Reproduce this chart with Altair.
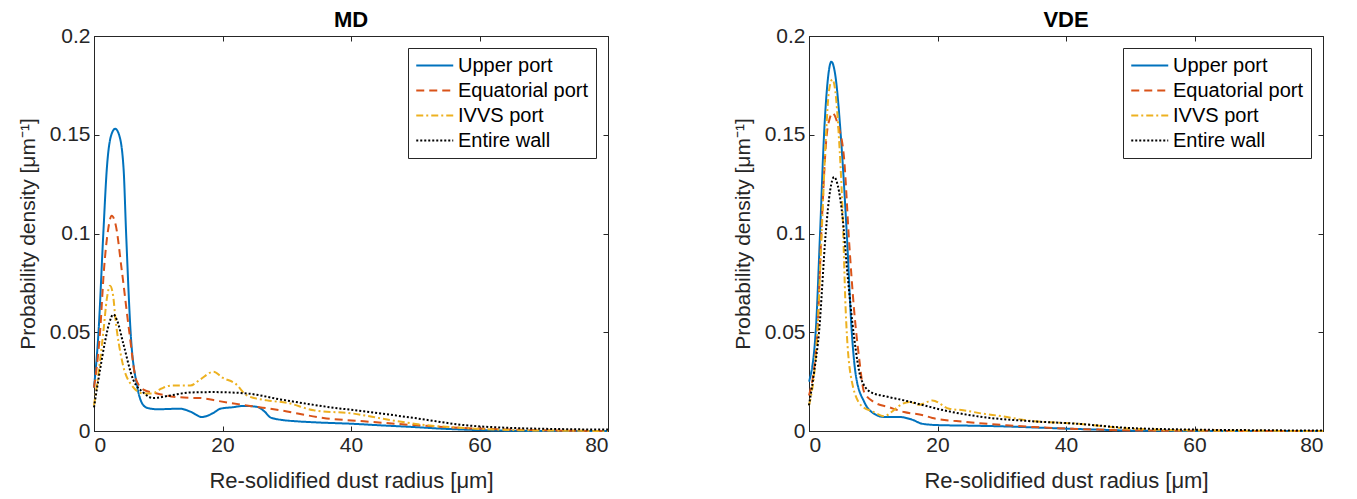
import altair as alt
import pandas as pd

SERIES = ["Upper port", "Equatorial port", "IVVS port", "Entire wall"]
COLORS = ["#0072BD", "#D95319", "#EDB120", "#000000"]
DASHES = [[1, 0], [8, 5], [7, 3, 2, 3], [2, 2]]
X_TICKS = [0, 20, 40, 60, 80]
Y_TICKS = [0, 0.05, 0.1, 0.15, 0.2]

# ---- MD panel ----
md_upper_x = [0, 0.7, 1.45, 2.0, 2.7, 3.3, 3.9, 4.6, 5.0, 5.7, 6.7, 7.7, 8.5, 10, 12, 13.4, 15, 16.8, 18.5, 19.7, 21.5, 23.3, 25.4, 26.5, 27.5, 29.5, 31.6, 35, 39.9, 45, 49.8, 54, 57.6, 62, 66, 72, 80]
md_upper_y = [0.022, 0.05, 0.1, 0.133, 0.150, 0.153, 0.150, 0.133, 0.1, 0.05, 0.023, 0.013, 0.0115, 0.011, 0.0112, 0.0113, 0.0098, 0.0071, 0.009, 0.0113, 0.012, 0.0127, 0.0122, 0.010, 0.0068, 0.0055, 0.0049, 0.0043, 0.0037, 0.0028, 0.002, 0.0012, 0.0007, 0.0003, 0.0001, 0, 0]

md_equ_x = [0, 0.94, 1.56, 2.2, 2.76, 3.4, 4.3, 5.5, 6.55, 7.7, 9.8, 12, 15, 16.5, 19.7, 24.3, 29, 35.7, 42, 49.8, 57.6, 65.4, 72, 80]
md_equ_y = [0.022, 0.05, 0.082, 0.102, 0.109, 0.104, 0.082, 0.05, 0.026, 0.021, 0.019, 0.0175, 0.0168, 0.0167, 0.015, 0.0127, 0.0105, 0.0066, 0.0049, 0.003, 0.0015, 0.0007, 0.0002, 0]

md_ivvs_x = [0, 0.8, 1.45, 2.0, 2.5, 3.0, 3.3, 4.4, 5.9, 7.7, 9.0, 10.5, 12, 13.4, 15, 16.5, 18.6, 20, 22, 23.8, 26.9, 30, 34.2, 40.4, 45, 49.8, 57.6, 65, 72, 80]
md_ivvs_y = [0.013, 0.032, 0.05, 0.067, 0.0736, 0.068, 0.058, 0.035, 0.023, 0.019, 0.019, 0.0215, 0.023, 0.023, 0.023, 0.026, 0.030, 0.027, 0.024, 0.018, 0.0155, 0.0143, 0.0105, 0.0088, 0.0062, 0.0037, 0.0015, 0.0005, 0.0002, 0]

md_wall_x = [0, 0.94, 1.7, 2.4, 3.0, 3.6, 4.5, 6.1, 7.6, 9.2, 11.9, 15, 18.6, 23.8, 29, 36.8, 42, 49.8, 57.6, 65.4, 72, 80]
md_wall_y = [0.012, 0.031, 0.045, 0.055, 0.059, 0.056, 0.045, 0.026, 0.0197, 0.0167, 0.018, 0.0195, 0.0197, 0.019, 0.016, 0.012, 0.010, 0.0066, 0.003, 0.0015, 0.001, 0.0007]

# ---- VDE panel ----
vde_upper_x = [0, 1.04, 1.72, 2.34, 2.9, 3.48, 4.1, 4.94, 5.88, 6.66, 7.3, 8.6, 10, 11.7, 14, 16, 17.6, 20, 25, 29.6, 35, 40, 45, 50, 55, 60, 80]
vde_upper_y = [0.025, 0.05, 0.1, 0.15, 0.177, 0.187, 0.18, 0.15, 0.1, 0.05, 0.028, 0.0147, 0.009, 0.0071, 0.0071, 0.0058, 0.0037, 0.003, 0.0027, 0.0024, 0.0018, 0.0012, 0.0007, 0.0002, 0.0001, 0, 0]

vde_equ_x = [0, 1.3, 1.92, 2.76, 3.2, 3.64, 4.5, 5.46, 6.24, 7.0, 7.8, 8.58, 10.1, 12.5, 14.8, 17.9, 19.2, 24.4, 30.7, 35, 40, 45, 50, 60, 80]
vde_equ_y = [0.018, 0.05, 0.1, 0.15, 0.158, 0.161, 0.155, 0.138, 0.096, 0.062, 0.037, 0.0197, 0.0147, 0.012, 0.0096, 0.0079, 0.0066, 0.0046, 0.0029, 0.002, 0.0012, 0.0007, 0.0003, 0.0001, 0]

vde_ivvs_x = [0, 1.3, 1.97, 2.65, 3.1, 3.64, 4.1, 4.63, 5.2, 5.7, 6.5, 8.1, 10.1, 11.7, 13, 14, 15.6, 17.2, 19.2, 21.8, 24, 27, 30, 33.8, 41.6, 50, 60, 70, 80]
vde_ivvs_y = [0.013, 0.05, 0.1, 0.15, 0.172, 0.178, 0.172, 0.15, 0.113, 0.062, 0.028, 0.013, 0.0096, 0.0075, 0.010, 0.0127, 0.0147, 0.0133, 0.0155, 0.0113, 0.0105, 0.0088, 0.0075, 0.0054, 0.0037, 0.0012, 0.0003, 0.0001, 0]

vde_wall_x = [0, 0.8, 1.56, 2.6, 3.3, 3.9, 4.5, 5.2, 6.0, 7.0, 8.1, 9.6, 12, 14.8, 17.9, 20.3, 27, 34.8, 41.6, 50, 60, 70, 80]
vde_wall_y = [0.013, 0.03, 0.05, 0.1, 0.122, 0.1286, 0.124, 0.109, 0.079, 0.048, 0.0265, 0.0197, 0.0175, 0.0155, 0.013, 0.011, 0.0071, 0.0049, 0.0037, 0.0015, 0.0007, 0.0004, 0.0002]


def long_df(parts):
    rows = []
    for name, xs, ys in parts:
        for i, (a, b) in enumerate(zip(xs, ys)):
            rows.append({"series": name, "x": a, "y": b, "i": i})
    return pd.DataFrame(rows)


md_df = long_df([
    ("Upper port", md_upper_x, md_upper_y),
    ("Equatorial port", md_equ_x, md_equ_y),
    ("IVVS port", md_ivvs_x, md_ivvs_y),
    ("Entire wall", md_wall_x, md_wall_y),
])
vde_df = long_df([
    ("Upper port", vde_upper_x, vde_upper_y),
    ("Equatorial port", vde_equ_x, vde_equ_y),
    ("IVVS port", vde_ivvs_x, vde_ivvs_y),
    ("Entire wall", vde_wall_x, vde_wall_y),
])

AX = "#262626"
FONT = "Liberation Sans"
W, H = 514, 395
TICK_FS = 21


def panel(df, title):
    xs = alt.Scale(domain=[0, 80], nice=False, zero=False)
    ys = alt.Scale(domain=[0, 0.2], nice=False, zero=False)
    leg = alt.Legend(
        title=None, orient="top-right", offset=12, symbolType="M-1,0L3,0",
        symbolSize=342, symbolStrokeWidth=2, labelFontSize=20, labelFont=FONT,
        labelColor="#000000", fillColor="white", strokeColor=AX, padding=7,
        rowPadding=4, labelOffset=22, cornerRadius=0, labelLimit=400,
    )
    lines = alt.Chart(df).mark_line(strokeWidth=2, interpolate="monotone").encode(
        x=alt.X("x:Q", scale=xs, axis=alt.Axis(
            values=X_TICKS, title="Re-solidified dust radius [μm]", grid=False,
            tickSize=alt.ExprRef("-5"), labelPadding=8, labelFontSize=TICK_FS,
            titleFontSize=22, titleFontWeight="normal", titlePadding=15,
            domainColor=AX, tickColor=AX, labelColor=AX, titleColor=AX,
            labelFont=FONT, titleFont=FONT)),
        y=alt.Y("y:Q", scale=ys, axis=alt.Axis(
            values=Y_TICKS, format="~g", title="Probability density [μm⁻¹]", grid=False,
            tickSize=alt.ExprRef("-5"), labelPadding=9, labelFontSize=TICK_FS,
            titleFontSize=21, titleFontWeight="normal", titlePadding=11,
            domainColor=AX, tickColor=AX, labelColor=AX, titleColor=AX,
            labelFont=FONT, titleFont=FONT)),
        color=alt.Color("series:N", scale=alt.Scale(domain=SERIES, range=COLORS), legend=leg),
        strokeDash=alt.StrokeDash("series:N", scale=alt.Scale(domain=SERIES, range=DASHES), legend=leg),
        order="i:Q",
    )
    mirror = alt.Chart(df).mark_line(opacity=0).encode(
        x=alt.X("x:Q", scale=xs, axis=alt.Axis(
            orient="top", values=X_TICKS, labels=False, title=None, grid=False,
            domain=False, tickSize=alt.ExprRef("-5"), tickColor=AX)),
        y=alt.Y("y:Q", scale=ys, axis=alt.Axis(
            orient="right", values=Y_TICKS, labels=False, title=None, grid=False,
            domain=False, tickSize=alt.ExprRef("-5"), tickColor=AX)),
        detail="series:N",
    )
    return alt.layer(lines, mirror).resolve_axis(x="independent", y="independent").properties(
        width=W, height=H,
        title=alt.Title(title, frame="group", fontSize=22, fontWeight="bold", font=FONT,
                        color="#000000", offset=-7),
    )


chart = alt.hconcat(panel(md_df, "MD"), panel(vde_df, "VDE"), spacing=118).resolve_scale(
    color="independent", strokeDash="independent"
).configure_view(stroke=AX, strokeWidth=1).properties(padding={"left": 8, "top": 0, "right": 5, "bottom": 5})

chart.save("out.html", embed_options={"renderer": "svg", "actions": False})
